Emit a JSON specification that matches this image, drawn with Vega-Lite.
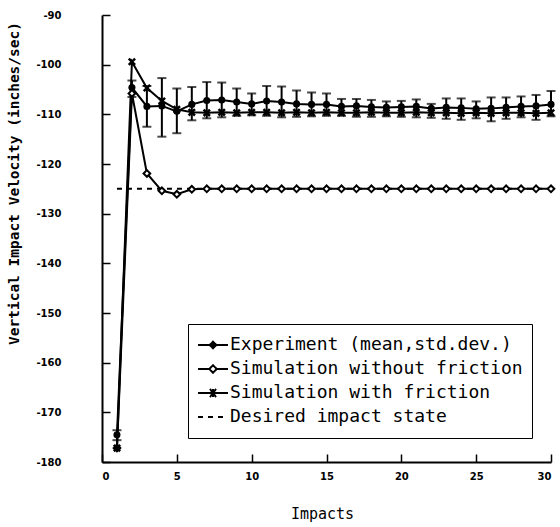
{
  "$schema": "https://vega.github.io/schema/vega-lite/v6.json",
  "autosize": "none",
  "width": 449,
  "height": 447,
  "padding": {"left": 102, "top": 15, "right": 9, "bottom": 65},
  "background": "white",
  "datasets": {
    "exp": [
      {"impact": 1, "v": -174.5, "lo": -175.6, "hi": -173.6},
      {"impact": 2, "v": -104.6, "lo": -106.5, "hi": -103.2},
      {"impact": 3, "v": -108.4, "lo": -112.5, "hi": -104.3},
      {"impact": 4, "v": -108.3, "lo": -114.5, "hi": -102.7},
      {"impact": 5, "v": -109.4, "lo": -113.8, "hi": -104.8},
      {"impact": 6, "v": -108.0, "lo": -111.2, "hi": -104.5},
      {"impact": 7, "v": -107.2, "lo": -110.8, "hi": -103.5},
      {"impact": 8, "v": -107.1, "lo": -110.6, "hi": -103.6},
      {"impact": 9, "v": -107.5, "lo": -110.3, "hi": -104.8},
      {"impact": 10, "v": -107.9, "lo": -110.2, "hi": -105.8},
      {"impact": 11, "v": -107.3, "lo": -110.3, "hi": -104.3},
      {"impact": 12, "v": -107.5, "lo": -110.6, "hi": -104.4},
      {"impact": 13, "v": -107.9, "lo": -110.5, "hi": -105.2},
      {"impact": 14, "v": -108.0, "lo": -110.4, "hi": -105.6},
      {"impact": 15, "v": -108.0, "lo": -110.3, "hi": -105.8},
      {"impact": 16, "v": -108.4, "lo": -110.3, "hi": -106.9},
      {"impact": 17, "v": -108.3, "lo": -110.5, "hi": -106.9},
      {"impact": 18, "v": -108.5, "lo": -110.5, "hi": -107.1},
      {"impact": 19, "v": -108.6, "lo": -110.4, "hi": -107.4},
      {"impact": 20, "v": -108.5, "lo": -110.5, "hi": -107.3},
      {"impact": 21, "v": -108.4, "lo": -110.6, "hi": -107.0},
      {"impact": 22, "v": -108.8, "lo": -110.7, "hi": -107.9},
      {"impact": 23, "v": -108.6, "lo": -110.9, "hi": -106.8},
      {"impact": 24, "v": -108.7, "lo": -111.1, "hi": -106.8},
      {"impact": 25, "v": -108.9, "lo": -110.8, "hi": -107.4},
      {"impact": 26, "v": -108.8, "lo": -111.4, "hi": -106.6},
      {"impact": 27, "v": -108.6, "lo": -110.9, "hi": -106.6},
      {"impact": 28, "v": -108.4, "lo": -110.6, "hi": -106.4},
      {"impact": 29, "v": -108.3, "lo": -111.1, "hi": -106.1},
      {"impact": 30, "v": -108.0, "lo": -110.4, "hi": -105.3}
    ],
    "nofric": [
      {"impact": 1, "v": -177.2}, {"impact": 2, "v": -105.8}, {"impact": 3, "v": -121.9},
      {"impact": 4, "v": -125.4}, {"impact": 5, "v": -126.1}, {"impact": 6, "v": -125.1},
      {"impact": 7, "v": -125.0}, {"impact": 8, "v": -125.0}, {"impact": 9, "v": -125.0},
      {"impact": 10, "v": -125.0}, {"impact": 11, "v": -125.0}, {"impact": 12, "v": -125.0},
      {"impact": 13, "v": -125.0}, {"impact": 14, "v": -125.0}, {"impact": 15, "v": -125.0},
      {"impact": 16, "v": -125.0}, {"impact": 17, "v": -125.0}, {"impact": 18, "v": -125.0},
      {"impact": 19, "v": -125.0}, {"impact": 20, "v": -125.0}, {"impact": 21, "v": -125.0},
      {"impact": 22, "v": -125.0}, {"impact": 23, "v": -125.0}, {"impact": 24, "v": -125.0},
      {"impact": 25, "v": -125.0}, {"impact": 26, "v": -125.0}, {"impact": 27, "v": -125.0},
      {"impact": 28, "v": -125.0}, {"impact": 29, "v": -125.0}, {"impact": 30, "v": -125.0}
    ],
    "fric": [
      {"impact": 1, "v": -177.2}, {"impact": 2, "v": -99.4}, {"impact": 3, "v": -104.7},
      {"impact": 4, "v": -107.3}, {"impact": 5, "v": -109.0}, {"impact": 6, "v": -109.6},
      {"impact": 7, "v": -109.7}, {"impact": 8, "v": -109.6}, {"impact": 9, "v": -109.7},
      {"impact": 10, "v": -109.6}, {"impact": 11, "v": -109.6}, {"impact": 12, "v": -109.7},
      {"impact": 13, "v": -109.6}, {"impact": 14, "v": -109.7}, {"impact": 15, "v": -109.6},
      {"impact": 16, "v": -109.7}, {"impact": 17, "v": -109.7}, {"impact": 18, "v": -109.6},
      {"impact": 19, "v": -109.7}, {"impact": 20, "v": -109.7}, {"impact": 21, "v": -109.6},
      {"impact": 22, "v": -109.7}, {"impact": 23, "v": -109.7}, {"impact": 24, "v": -109.8},
      {"impact": 25, "v": -109.7}, {"impact": 26, "v": -109.8}, {"impact": 27, "v": -109.7},
      {"impact": 28, "v": -109.7}, {"impact": 29, "v": -109.8}, {"impact": 30, "v": -109.7}
    ],
    "desired": [
      {"impact": 1, "v": -125}, {"impact": 30, "v": -125}
    ],
    "series": [
      {"series": "Experiment (mean,std.dev.)", "impact": 1, "v": -174.5},
      {"series": "Simulation without friction", "impact": 1, "v": -177.2},
      {"series": "Simulation with friction", "impact": 1, "v": -177.2},
      {"series": "Desired impact state", "impact": 1, "v": -125}
    ]
  },
  "config": {
    "view": {"stroke": null},
    "axis": {
      "domainColor": "black", "domainWidth": 2,
      "tickColor": "black", "tickWidth": 1.5, "tickSize": -8,
      "labelColor": "black", "labelFont": "DejaVu Sans", "labelFontWeight": "bold", "labelFontSize": 10,
      "titleColor": "black", "titleFont": "DejaVu Sans Mono",
      "grid": false
    }
  },
  "encoding": {
    "x": {
      "field": "impact", "type": "quantitative",
      "scale": {"domain": [0, 30], "nice": false, "zero": false},
      "axis": {
        "values": [0, 5, 10, 15, 20, 25, 30],
        "labelPadding": 17,
        "title": "Impacts", "titleFontSize": 15, "titleFontWeight": "normal",
        "titleX": 220, "titleY": 51, "titleBaseline": "middle"
      }
    },
    "y": {
      "field": "v", "type": "quantitative",
      "scale": {"domain": [-180, -90], "nice": false, "zero": false},
      "axis": {
        "values": [-180, -170, -160, -150, -140, -130, -120, -110, -100, -90],
        "labelExpr": "'' + datum.value",
        "labelPadding": 49,
        "title": "Vertical Impact Velocity (inches/sec)", "titleFontSize": 14.5, "titleFontWeight": "bold",
        "titleX": -88, "titleY": 168, "titleBaseline": "middle"
      }
    }
  },
  "layer": [
    {
      "data": {"name": "desired"},
      "mark": {"type": "line", "color": "black", "strokeWidth": 2, "strokeDash": [5, 5]}
    },
    {
      "data": {"name": "nofric"},
      "mark": {"type": "line", "color": "black", "strokeWidth": 2}
    },
    {
      "data": {"name": "fric"},
      "mark": {"type": "line", "color": "black", "strokeWidth": 2}
    },
    {
      "data": {"name": "exp"},
      "mark": {"type": "line", "color": "black", "strokeWidth": 2}
    },
    {
      "data": {"name": "exp"},
      "mark": {"type": "errorbar", "color": "black", "thickness": 2, "ticks": {"size": 9, "thickness": 2}},
      "encoding": {
        "y": {"field": "lo", "type": "quantitative"},
        "y2": {"field": "hi"}
      }
    },
    {
      "data": {"name": "nofric"},
      "mark": {"type": "point", "shape": "diamond", "filled": true, "fill": "white", "stroke": "black", "strokeWidth": 2, "size": 45, "opacity": 1}
    },
    {
      "data": {"name": "fric"},
      "mark": {"type": "point", "shape": "M-1,-1L1,1M-1,1L1,-1", "filled": false, "stroke": "black", "strokeWidth": 2.5, "size": 40, "opacity": 1}
    },
    {
      "data": {"name": "exp"},
      "mark": {"type": "point", "shape": "circle", "filled": true, "color": "black", "size": 50, "opacity": 1}
    },
    {
      "data": {"name": "series"},
      "transform": [{"filter": "datum.impact > 100"}],
      "mark": {"type": "point", "filled": true, "opacity": 1, "strokeWidth": 2},
      "encoding": {
        "shape": {
          "field": "series", "type": "nominal",
          "scale": {
            "domain": ["Experiment (mean,std.dev.)", "Simulation without friction", "Simulation with friction", "Desired impact state"],
            "range": [
              "M-1,0H1M0,-0.22L0.22,0L0,0.22L-0.22,0Z",
              "M-1,0H-0.25M0.25,0H1M0,-0.25L0.25,0L0,0.25L-0.25,0Z",
              "M-1,0H1M-0.2,-0.27L0.2,0.27M-0.2,0.27L0.2,-0.27M0,-0.27V0.27",
              "M-1,0H1"
            ]
          },
          "legend": {
            "title": null, "orient": "none", "legendX": 86, "legendY": 309,
            "strokeColor": "black", "padding": 9, "rowPadding": 0,
            "symbolSize": 900, "clipHeight": 24,
            "symbolStrokeColor": "black", "symbolStrokeWidth": 2, "symbolOpacity": 1,
            "labelFont": "DejaVu Sans Mono", "labelFontSize": 18, "labelColor": "black",
            "labelOffset": 1, "labelLimit": 400,
            "encode": {
              "symbols": {"update": {"strokeWidth": {"value": 2}, "strokeOpacity": {"value": 1}, "fillOpacity": {"value": 1}, "opacity": {"value": 1}}},
              "legend": {"update": {"strokeWidth": {"value": 2}}}
            }
          }
        },
        "stroke": {
          "field": "series", "type": "nominal",
          "scale": {
            "domain": ["Experiment (mean,std.dev.)", "Simulation without friction", "Simulation with friction", "Desired impact state"],
            "range": ["black", "black", "black", "black"]
          }
        },
        "fill": {
          "field": "series", "type": "nominal",
          "scale": {
            "domain": ["Experiment (mean,std.dev.)", "Simulation without friction", "Simulation with friction", "Desired impact state"],
            "range": ["black", "white", "black", "black"]
          }
        },
        "strokeDash": {
          "field": "series", "type": "nominal",
          "scale": {
            "domain": ["Experiment (mean,std.dev.)", "Simulation without friction", "Simulation with friction", "Desired impact state"],
            "range": [[1, 0], [1, 0], [1, 0], [5, 5]]
          }
        }
      }
    }
  ]
}
